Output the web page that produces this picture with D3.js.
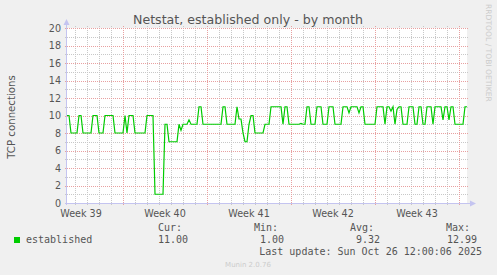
<!DOCTYPE html>
<html><head><meta charset="utf-8">
<script src="https://cdn.jsdelivr.net/npm/d3@7"></script>
<style>
html,body{margin:0;padding:0;background:#f0f0f0;}
svg{display:block;}
</style></head>
<body><svg id="c" width="497" height="275"></svg>
<script>
// ---- data ----
const title = "Netstat, established only - by month";
const yLabel = "TCP connections";
const seriesName = "established";
const seriesColor = "#00cc00";
const startTime = Date.UTC(2025, 8, 23, 8, 0, 0);   // first sample
const endTime = Date.UTC(2025, 9, 26, 16, 0, 0);    // graph end
const stepHours = 4;
const weekStarts = [Date.UTC(2025,8,21), Date.UTC(2025,8,28), Date.UTC(2025,9,5), Date.UTC(2025,9,12), Date.UTC(2025,9,19), Date.UTC(2025,9,26)];
const weekLabels = ["Week 39", "Week 40", "Week 41", "Week 42", "Week 43"];
const yTicks = [0, 2, 4, 6, 8, 10, 12, 14, 16, 18, 20];
const values = [
 10,10,8,8,8,8,10,10,8,8, 8,8,8,10,10,10,8,8,8,10,
 10,10,10,10,8,8,8,8,8,10, 8,10,10,10,8,8,8,8,8,8,
 10,10,10,10,1,1,1,1,1,9, 9,7,7,7,7,7,9,8.3,9,9,
 9,9.5,9,9,9,9,11,11,9,9, 9,9,9,9,9,9,9,9,11,11,
 9,9,9,9,9,11,9.6,9.6,8,7, 7,9,10,10,8,8,8,8,8,9,
 9,9,11,11,11,11,11,11,9,11, 11,9,9,9,9,9,9,9.1,9,9,
 11,11,9,9,9,11,11,11,9,9, 9,11,11,11,9,9,9,9,11,11,
 11,10.3,11,11,11,11,10.3,11,11,9, 9,9,9,9,9,11,11,11,11,9,
 11,11,10.5,11,9,10.7,11,11,9,9, 9,11,11,11,9,9,11,11,9,9,
 11,11,11,9,11,11,11,11,9.5,11, 11,9.5,11,11,9,9,9,9,9,11,
 11
];
const statLabels = ["Cur:", "Min:", "Avg:", "Max:"];
const statValues = ["11.00", "1.00", "9.32", "12.99"];
const lastUpdate = "Last update: Sun Oct 26 12:00:06 2025";
const footer = "Munin 2.0.76";
const watermark = "RRDTOOL / TOBI OETIKER";

// ---- layout ----
const X0 = 67, X1 = 467, Y0 = 203, Y1 = 28;
const svg = d3.select("#c");
const SANS = "'DejaVu Sans', sans-serif", MONO = "'DejaVu Sans Mono', monospace";
const txt = "#555";

const x = d3.scaleUtc().domain([startTime, endTime]).range([X0, X1]);
const y = d3.scaleLinear().domain([0, 20]).range([Y0, Y1]);
const px = v => Math.round(v) + 0.5;

svg.append("rect").attr("width", 497).attr("height", 275).attr("fill", "#f0f0f0");
svg.append("rect").attr("x", X0).attr("y", Y1).attr("width", X1 - X0).attr("height", Y0 - Y1).attr("fill", "#ffffff");

const grid = svg.append("g");
// minor horizontal
d3.range(1, 20).filter(v => v % 2 === 1).forEach(v => {
  grid.append("line").attr("x1", X0 - 2).attr("x2", X1 + 2).attr("y1", px(y(v))).attr("y2", px(y(v)))
    .attr("stroke", "#c8c8c8").attr("stroke-dasharray", "1,1");
});
// minor vertical (days)
const days = d3.utcDay.range(new Date(startTime), new Date(endTime));
days.forEach(d => {
  if (weekStarts.includes(+d)) return;
  grid.append("line").attr("x1", px(x(d))).attr("x2", px(x(d))).attr("y1", Y1 - 2).attr("y2", Y0 + 2)
    .attr("stroke", "#c8c8c8").attr("stroke-dasharray", "1,1");
});
// major horizontal
yTicks.filter(v => v > 0).forEach(v => {
  grid.append("line").attr("x1", X0 - 2).attr("x2", X1 + 2).attr("y1", px(y(v))).attr("y2", px(y(v)))
    .attr("stroke", "#e8a0a0").attr("stroke-dasharray", "1,1");
});
// major vertical (weeks)
weekStarts.filter(t => t > startTime && t < endTime).forEach(t => {
  grid.append("line").attr("x1", px(x(t))).attr("x2", px(x(t))).attr("y1", Y1 - 2).attr("y2", Y0 + 2)
    .attr("stroke", "#e8a0a0").attr("stroke-dasharray", "1,1");
});

// y tick labels
svg.append("g").selectAll("text").data(yTicks).join("text")
  .attr("x", 61).attr("y", d => y(d) + 3.5).attr("text-anchor", "end")
  .attr("font-family", SANS).attr("font-size", "9.6px").attr("fill", txt).text(d => d);

// x labels centred mid-week
svg.append("g").selectAll("text").data(weekLabels).join("text")
  .attr("x", (d, i) => x(weekStarts[i] + 3.5 * 86400000)).attr("y", 216.5).attr("text-anchor", "middle")
  .attr("font-family", SANS).attr("font-size", "9.6px").attr("fill", txt).text(d => d);

// data line
const data = values.map((v, i) => ({ t: startTime + i * stepHours * 3600000, v }));
svg.append("path").datum(data)
  .attr("d", d3.line().x(d => x(d.t)).y(d => y(d.v)))
  .attr("fill", "none").attr("stroke", seriesColor).attr("stroke-width", 1.2);

// axes
const axisCol = "#c4c4f0";
svg.append("line").attr("x1", X0 - 0.5).attr("x2", X0 - 0.5).attr("y1", Y0 + 2).attr("y2", Y1 - 4).attr("stroke", axisCol);
svg.append("line").attr("x1", X0 - 2).attr("x2", X1 + 4).attr("y1", Y0 + 0.5).attr("y2", Y0 + 0.5).attr("stroke", axisCol);
svg.append("path").attr("d", `M${X0 - 3.5},${Y1 - 3} L${X0 - 0.5},${Y1 - 9} L${X0 + 2.5},${Y1 - 3} Z`).attr("fill", axisCol);
svg.append("path").attr("d", `M${X1 + 3},${Y0 - 2.5} L${X1 + 9},${Y0 + 0.5} L${X1 + 3},${Y0 + 3.5} Z`).attr("fill", axisCol);

// title
svg.append("text").attr("x", 248).attr("y", 24).attr("text-anchor", "middle")
  .attr("font-family", SANS).attr("font-size", "12.6px").attr("fill", txt).text(title);

// y label
svg.append("text").attr("transform", "translate(15,117) rotate(-90)").attr("text-anchor", "middle")
  .attr("font-family", SANS).attr("font-size", "10.2px").attr("fill", txt).text(yLabel);

// watermark
svg.append("text").attr("transform", "translate(486,4) rotate(90)").attr("text-anchor", "start")
  .attr("font-family", SANS).attr("font-size", "7.6px").attr("fill", "#cccccc").text(watermark);

// legend
svg.append("rect").attr("x", 14).attr("y", 237).attr("width", 6).attr("height", 6).attr("fill", seriesColor);
svg.append("text").attr("x", 26).attr("y", 243).attr("font-family", MONO).attr("font-size", "10px").attr("fill", txt).text(seriesName);
const statRight = [182, 278, 374, 470];
const valRight = [188, 284, 380, 477];
statLabels.forEach((s, i) => {
  svg.append("text").attr("x", statRight[i]).attr("y", 231).attr("text-anchor", "end")
    .attr("font-family", MONO).attr("font-size", "10px").attr("fill", txt).text(s);
  svg.append("text").attr("x", valRight[i]).attr("y", 243).attr("text-anchor", "end")
    .attr("font-family", MONO).attr("font-size", "10px").attr("fill", txt).text(statValues[i]);
});
svg.append("text").attr("x", 482).attr("y", 255).attr("text-anchor", "end")
  .attr("font-family", MONO).attr("font-size", "10px").attr("fill", txt).text(lastUpdate);
svg.append("text").attr("x", 248).attr("y", 267).attr("text-anchor", "middle")
  .attr("font-family", SANS).attr("font-size", "7px").attr("fill", "#cccccc").text(footer);
</script></body></html>
